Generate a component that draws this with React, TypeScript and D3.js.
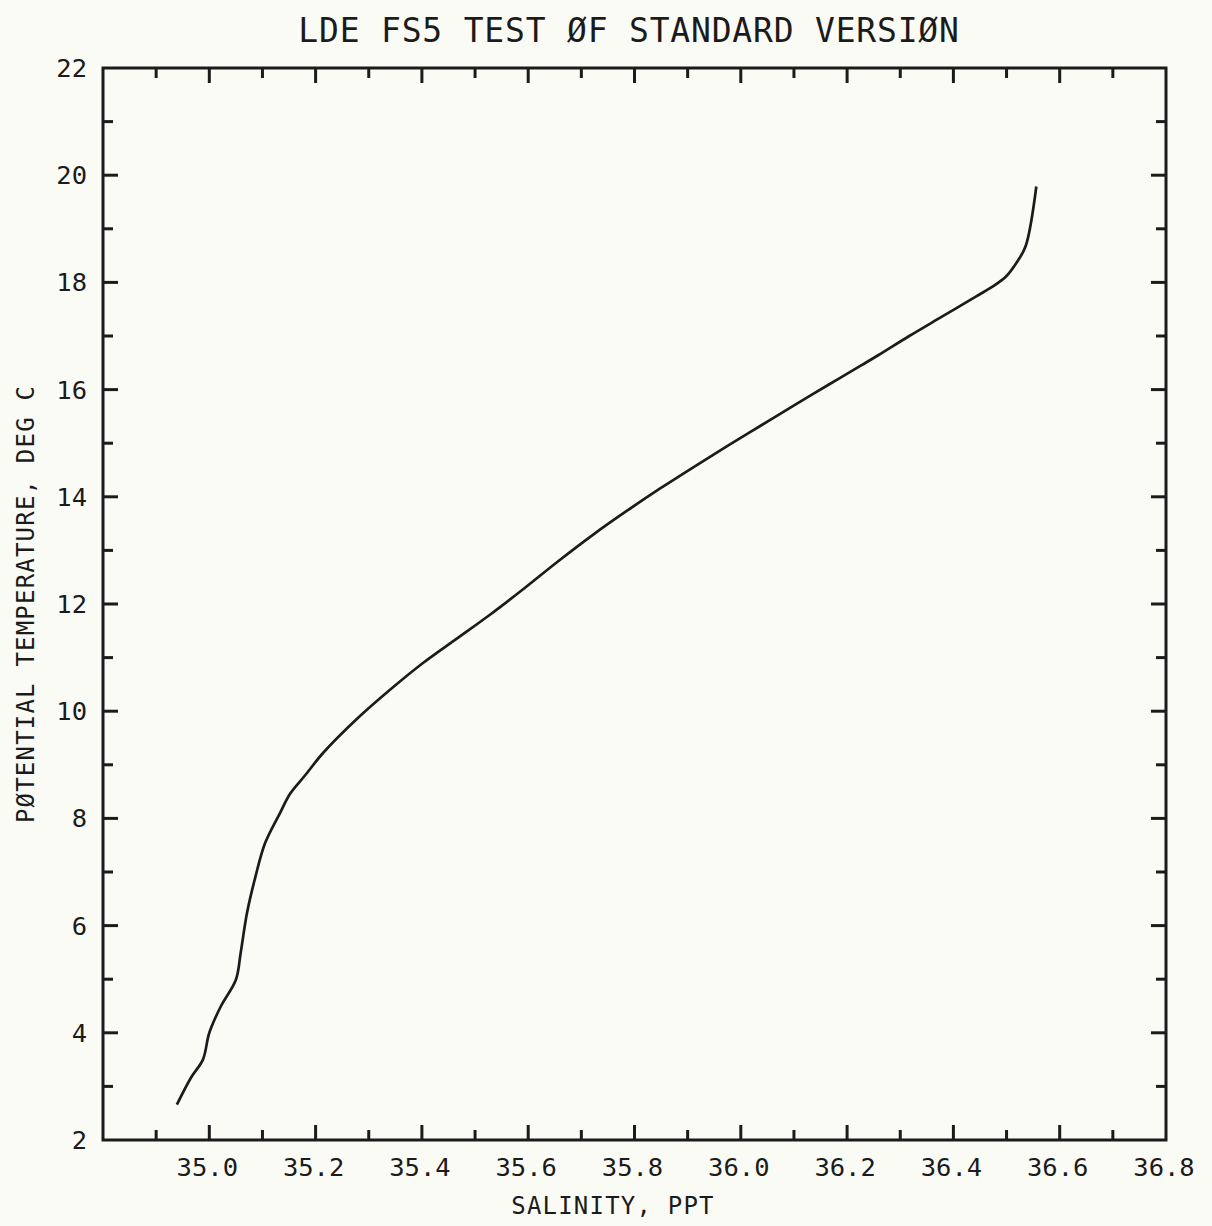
import React, { useEffect, useRef } from "react";
import * as d3 from "d3";

const salinity = [
  34.939, 34.966, 34.988, 35.0, 35.022, 35.05, 35.059, 35.071, 35.087, 35.105,
  35.133, 35.152, 35.18, 35.214, 35.277, 35.34, 35.402, 35.465, 35.528, 35.591,
  35.654, 35.723, 35.786, 35.849, 35.912, 35.975, 36.038, 36.101, 36.165, 36.228,
  36.26, 36.317, 36.38, 36.443, 36.475, 36.5, 36.519, 36.536, 36.556,
];
const temperature = [
  2.66, 3.17, 3.5, 4.0, 4.5, 4.99, 5.49, 6.24, 6.92, 7.54,
  8.1, 8.46, 8.8, 9.22, 9.85, 10.4, 10.9, 11.35, 11.8, 12.28,
  12.78, 13.3, 13.74, 14.16, 14.56, 14.95, 15.33, 15.71, 16.09, 16.46,
  16.65, 17.0, 17.37, 17.74, 17.93, 18.12, 18.37, 18.68, 19.79,
];

const xLabels = ["35.0", "35.2", "35.4", "35.6", "35.8", "36.0", "36.2", "36.4", "36.6", "36.8"];
const yLabels = ["2", "4", "6", "8", "10", "12", "14", "16", "18", "20", "22"];

const title = "LDE FS5 TEST \u00D8F STANDARD VERSI\u00D8N";
const xTitle = "SALINITY, PPT";
const yTitle = "P\u00D8TENTIAL TEMPERATURE, DEG C";

const W = 1212;
const H = 1226;
const ink = "#1b1b1b";
const font = "'DejaVu Sans Mono', monospace";

export default function App() {
  const ref = useRef<SVGSVGElement>(null);

  useEffect(() => {
    const svg = d3.select(ref.current);
    svg.selectAll("*").remove();

    const left = 103, right = 1166, top = 68, bottom = 1140;
    const x = d3.scaleLinear().domain([34.8, 36.8]).range([left, right]);
    const y = d3.scaleLinear().domain([2, 22]).range([bottom, top]);

    svg.append("rect").attr("width", W).attr("height", H).attr("fill", "#fbfbf6");

    // frame
    svg
      .append("rect")
      .attr("x", left)
      .attr("y", top)
      .attr("width", right - left)
      .attr("height", bottom - top)
      .attr("fill", "none")
      .attr("stroke", ink)
      .attr("stroke-width", 3);

    const major = 15, minor = 10;
    const ticks = svg.append("g").attr("stroke", ink).attr("stroke-width", 3);

    x.ticks(20).forEach((v) => {
      const px = x(v);
      if (px <= left + 1 || px >= right - 1) return;
      const len = Math.round(v * 10) % 2 === 0 ? major : minor;
      ticks.append("line").attr("x1", px).attr("x2", px).attr("y1", top).attr("y2", top + len);
      ticks.append("line").attr("x1", px).attr("x2", px).attr("y1", bottom).attr("y2", bottom - len);
    });

    y.ticks(20).forEach((v) => {
      const py = y(v);
      if (py <= top + 1 || py >= bottom - 1) return;
      const len = v % 2 === 0 ? major : minor;
      ticks.append("line").attr("y1", py).attr("y2", py).attr("x1", left).attr("x2", left + len);
      ticks.append("line").attr("y1", py).attr("y2", py).attr("x1", right).attr("x2", right - len);
    });

    // tick labels
    svg
      .append("g")
      .selectAll("text")
      .data(xLabels)
      .enter()
      .append("text")
      .attr("x", (d) => x(+d) - 2)
      .attr("y", 1176)
      .attr("text-anchor", "middle")
      .attr("font-family", font)
      .attr("font-size", 25.5)
      .attr("fill", ink)
      .text((d) => d);

    svg
      .append("g")
      .selectAll("text")
      .data(yLabels)
      .enter()
      .append("text")
      .attr("x", 87)
      .attr("y", (d) => y(+d) + 9)
      .attr("text-anchor", "end")
      .attr("font-family", font)
      .attr("font-size", 25.5)
      .attr("fill", ink)
      .text((d) => d);

    // titles
    svg
      .append("text")
      .attr("x", 629)
      .attr("y", 42)
      .attr("text-anchor", "middle")
      .attr("font-family", font)
      .attr("font-size", 33)
      .attr("letter-spacing", 0.8)
      .attr("fill", ink)
      .text(title);

    svg
      .append("text")
      .attr("x", 613)
      .attr("y", 1214)
      .attr("text-anchor", "middle")
      .attr("font-family", font)
      .attr("font-size", 24)
      .attr("letter-spacing", 1.2)
      .attr("fill", ink)
      .text(xTitle);

    svg
      .append("text")
      .attr("transform", `translate(34,${(top + bottom) / 2}) rotate(-90)`)
      .attr("text-anchor", "middle")
      .attr("font-family", font)
      .attr("font-size", 24)
      .attr("letter-spacing", 1.2)
      .attr("fill", ink)
      .text(yTitle);

    // the T-S curve
    const pts = salinity.map((s, i) => [s, temperature[i]] as [number, number]);
    const line = d3
      .line<[number, number]>()
      .x((d) => x(d[0]))
      .y((d) => y(d[1]))
      .curve(d3.curveCatmullRom.alpha(0.5));

    svg
      .append("path")
      .datum(pts)
      .attr("d", line)
      .attr("fill", "none")
      .attr("stroke", ink)
      .attr("stroke-width", 2.7)
      .attr("stroke-linejoin", "round");
  }, []);

  return (
    <svg
      ref={ref}
      width={W}
      height={H}
      style={{ position: "absolute", left: 0, top: 0, display: "block" }}
    />
  );
}
